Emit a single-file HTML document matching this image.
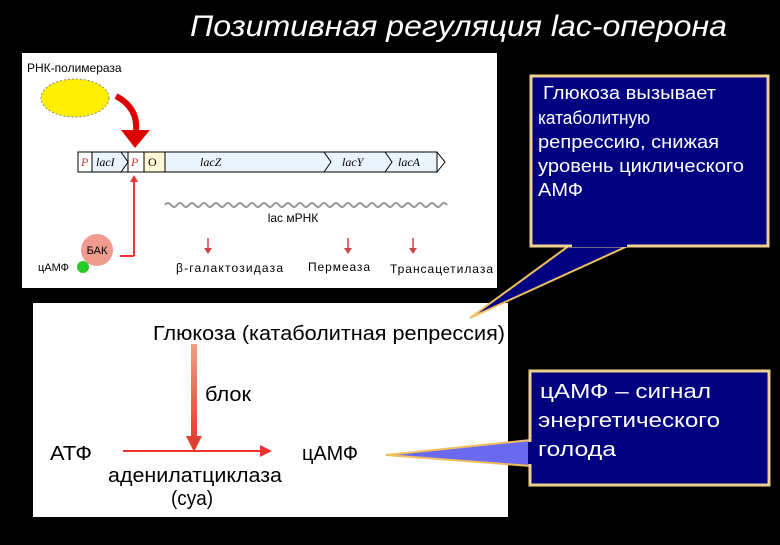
<!DOCTYPE html>
<html><head><meta charset="utf-8"><style>
body{margin:0;width:780px;height:540px;background:#000;overflow:hidden;font-family:"Liberation Sans","DejaVu Sans",sans-serif;}
</style></head><body>
<svg width="780" height="540" xmlns="http://www.w3.org/2000/svg" font-family="Liberation Sans, DejaVu Sans, sans-serif">
<defs>
<linearGradient id="g1" x1="0" y1="0" x2="0" y2="1"><stop offset="0" stop-color="#f0a080"/><stop offset="1" stop-color="#e04030"/></linearGradient>
</defs>
<text x="190" y="36" font-size="30" font-style="italic" fill="#fff" textLength="537" lengthAdjust="spacingAndGlyphs">Позитивная регуляция lac-оперона</text>
<!-- top panel -->
<rect x="22" y="53" width="475" height="235" fill="#fff"/>
<text x="27" y="72" font-size="12" fill="#000">РНК-полимераза</text>
<ellipse cx="75" cy="98" rx="34" ry="19" fill="#ffee00" stroke="#888" stroke-dasharray="2,2"/>
<path d="M116,96 Q138,108 136,130" stroke="#d00" stroke-width="6" fill="none"/>
<polygon points="121,130 150,130 135,148" fill="#d00"/>
<rect x="78" y="152" width="359" height="20" fill="#eaf4fc" stroke="#000"/>
<rect x="78" y="152" width="14" height="20" fill="#fff" stroke="#000"/>
<rect x="128" y="152" width="16" height="20" fill="#fff" stroke="#000"/>
<rect x="144" y="152" width="21" height="20" fill="#fff8d8" stroke="#000"/>
<g fill="none" stroke="#000"><path d="M121,152 L128,162 L121,172"/><path d="M324,152 L331,162 L324,172"/><path d="M385,152 L392,162 L385,172"/><path d="M437,152 L445,162 L437,172"/></g>
<g font-size="12" font-style="italic" font-family="Liberation Serif, serif">
<text x="81" y="166" fill="#c33">P</text><text x="96" y="166">lacI</text><text x="131" y="166" fill="#c33">P</text><text x="148" y="166" font-style="normal">O</text>
<text x="200" y="166">lacZ</text><text x="342" y="166">lacY</text><text x="398" y="166">lacA</text></g>
<path d="M134,256 L134,178" stroke="#e33" stroke-width="2"/><polygon points="130,182 138,182 134,175" fill="#e33"/>
<path d="M120,256 L134,256" stroke="#e33" stroke-width="2"/>
<circle cx="97" cy="250" r="16" fill="#f09a90"/>
<text x="97" y="254" font-size="11" text-anchor="middle">БАК</text>
<text x="38" y="271" font-size="11">цАМФ</text>
<circle cx="83" cy="267" r="6" fill="#2c2"/>
<path d="M165,205 q3,-4 6,0 t6,0 t6,0 t6,0 t6,0 t6,0 t6,0 t6,0 t6,0 t6,0 t6,0 t6,0 t6,0 t6,0 t6,0 t6,0 t6,0 t6,0 t6,0 t6,0 t6,0 t6,0 t6,0 t6,0 t6,0 t6,0 t6,0 t6,0 t6,0 t6,0 t6,0 t6,0 t6,0 t6,0 t6,0 t6,0 t6,0 t6,0 t6,0 t6,0 t6,0 t6,0 t6,0 t6,0 t6,0 t6,0 t6,0" stroke="#999" stroke-width="2" fill="none"/>
<text x="293" y="222" font-size="12" text-anchor="middle">lac мРНК</text>
<g stroke="#c44" stroke-width="1.5"><path d="M208,238 V250"/><path d="M348,238 V250"/><path d="M413,238 V250"/></g>
<g fill="#c44"><polygon points="204,248 212,248 208,254"/><polygon points="344,248 352,248 348,254"/><polygon points="409,248 417,248 413,254"/></g>
<g font-size="12"><text x="176" y="272" textLength="107">β-галактозидаза</text><text x="308" y="271" textLength="62">Пермеаза</text><text x="390" y="273" textLength="103">Трансацетилаза</text></g>
<!-- bottom panel -->
<rect x="33" y="303" width="475" height="214" fill="#fff"/>
<text x="153" y="340" font-size="20" textLength="352" lengthAdjust="spacingAndGlyphs">Глюкоза (катаболитная репрессия)</text>
<rect x="191" y="344" width="6" height="96" fill="url(#g1)"/>
<polygon points="186,436 202,436 194,452" fill="#e04030"/>
<text x="205" y="401" font-size="20" textLength="46" lengthAdjust="spacingAndGlyphs">блок</text>
<text x="50" y="460" font-size="20" textLength="42" lengthAdjust="spacingAndGlyphs">АТФ</text>
<path d="M123,451 H262" stroke="#e33" stroke-width="2"/><polygon points="260,445 272,451 260,457" fill="#e33"/>
<text x="302" y="460" font-size="20" textLength="56" lengthAdjust="spacingAndGlyphs">цАМФ</text>
<text x="108" y="482" font-size="20" textLength="174" lengthAdjust="spacingAndGlyphs">аденилатциклаза</text>
<text x="171" y="505" font-size="20" textLength="42" lengthAdjust="spacingAndGlyphs">(cya)</text>
<!-- callout 1 -->
<polygon points="570,245 630,245 470,318" fill="#000080" stroke="#f0c060" stroke-width="2"/>
<rect x="531" y="76" width="237" height="170" fill="#000080" stroke="#f0d090" stroke-width="3"/>
<rect x="572" y="243" width="55" height="4" fill="#000080"/>
<g font-size="18" fill="#fff"><text x="543" y="99" textLength="173" lengthAdjust="spacingAndGlyphs">Глюкоза вызывает</text><text x="538" y="124" textLength="112" lengthAdjust="spacingAndGlyphs">катаболитную</text><text x="538" y="148" textLength="181" lengthAdjust="spacingAndGlyphs">репрессию, снижая</text><text x="538" y="172" textLength="206" lengthAdjust="spacingAndGlyphs">уровень циклического</text><text x="538" y="196" textLength="45" lengthAdjust="spacingAndGlyphs">АМФ</text></g>
<!-- callout 2 -->
<polygon points="531,440 531,466 386,455" fill="#6a6af0" stroke="#f0c060" stroke-width="2"/>
<rect x="530" y="371" width="239" height="114" fill="#000080" stroke="#f0d090" stroke-width="3"/>
<rect x="528" y="442" width="5" height="22" fill="#000080"/>
<g font-size="20" fill="#fff"><text x="540" y="398" textLength="171" lengthAdjust="spacingAndGlyphs">цАМФ – сигнал</text><text x="538" y="427" textLength="182" lengthAdjust="spacingAndGlyphs">энергетического</text><text x="538" y="456" textLength="78" lengthAdjust="spacingAndGlyphs">голода</text></g>
</svg>
</body></html>
